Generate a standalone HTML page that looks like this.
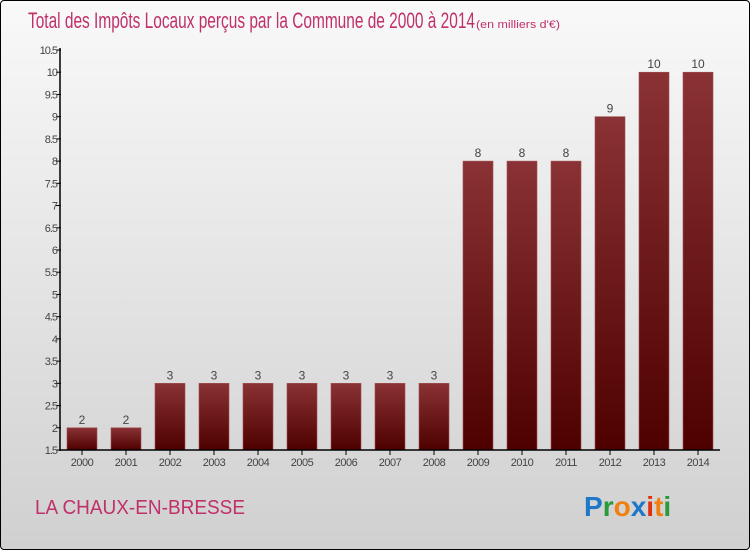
<!DOCTYPE html>
<html><head><meta charset="utf-8"><style>
html,body{margin:0;padding:0}
body{width:750px;height:550px;overflow:hidden;font-family:"Liberation Sans",sans-serif}
#wrap{position:absolute;left:0;top:0;width:748px;height:548px;border:1px solid #000;border-radius:4px;background:linear-gradient(#f9f9f9,#d0d0d0)}
</style></head><body>
<div id="wrap">
<svg id="chart" width="750" height="550" style="position:absolute;left:-1px;top:-1px">
<defs><linearGradient id="bg" x1="0" y1="0" x2="0" y2="1"><stop offset="0" stop-color="#8a3236"/><stop offset="1" stop-color="#4e0000"/></linearGradient></defs>
<text x="28" y="28" font-size="22" fill="#c0306a" textLength="447" lengthAdjust="spacingAndGlyphs">Total des Impôts Locaux perçus par la Commune de 2000 à 2014</text>
<text x="476" y="28" font-size="11" fill="#c0306a" textLength="84" lengthAdjust="spacingAndGlyphs">(en milliers d'€)</text>
<text x="35" y="514" font-size="20" fill="#c0306a" textLength="210" lengthAdjust="spacingAndGlyphs">LA CHAUX-EN-BRESSE</text>
<g font-size="28" font-weight="bold">
<text x="584" y="516"><tspan fill="#1e78c8">P</tspan><tspan fill="#2a9a3a">r</tspan><tspan fill="#f08010">o</tspan><tspan fill="#1e78c8">x</tspan><tspan fill="#e03010">i</tspan><tspan fill="#f08010">t</tspan><tspan fill="#2a9a3a">i</tspan></text>
</g>
</svg>
</div>
<script>
const years=["2000","2001","2002","2003","2004","2005","2006","2007","2008","2009","2010","2011","2012","2013","2014"];
const values=[2,2,3,3,3,3,3,3,3,8,8,8,9,10,10];
const labels=["2","2","3","3","3","3","3","3","3","8","8","8","9","10","10"];
const ticks=[1.5,2,2.5,3,3.5,4,4.5,5,5.5,6,6.5,7,7.5,8,8.5,9,9.5,10,10.5];
const NS="http://www.w3.org/2000/svg";
const svg=document.getElementById('chart');
const y=v=>450-(v-1.5)*(400/9);
const x=i=>82+i*44;
function mk(t,a){const e=document.createElementNS(NS,t);for(const k in a)e.setAttribute(k,a[k]);svg.appendChild(e);return e;}
ticks.forEach(t=>{
 const l=mk('line',{x1:56,x2:61,y1:y(t),y2:y(t),stroke:'#000'});
 
 
 const tx=mk('text',{x:57,y:y(t)+4,'text-anchor':'end','font-size':11,fill:'#444','letter-spacing':'-1'});
 tx.textContent=String(t);
 
 
});
values.forEach((v,i)=>{
 const r=mk('rect',{x:x(i)-15,y:y(v),width:30,height:450-y(v),fill:'url(#bg)',stroke:'#a05050','stroke-width':0.6});
 
 
 const t=mk('text',{x:x(i),y:y(v)-4,'text-anchor':'middle','font-size':12,fill:'#444'});
 t.textContent=labels[i];
 
 
 const tk=mk('line',{x1:x(i),x2:x(i),y1:450,y2:455,stroke:'#000'});
 
 
 const xl=mk('text',{x:x(i),y:466,'text-anchor':'middle','font-size':11,fill:'#444','letter-spacing':'-0.5'});
 xl.textContent=years[i];
 
 
});
const ya=mk('line',{x1:60,x2:60,y1:48,y2:451,stroke:'#000','stroke-width':1.5});


const xa=mk('line',{x1:60,x2:720,y1:450,y2:450,stroke:'#000','stroke-width':1.5});


</script>
</body></html>
